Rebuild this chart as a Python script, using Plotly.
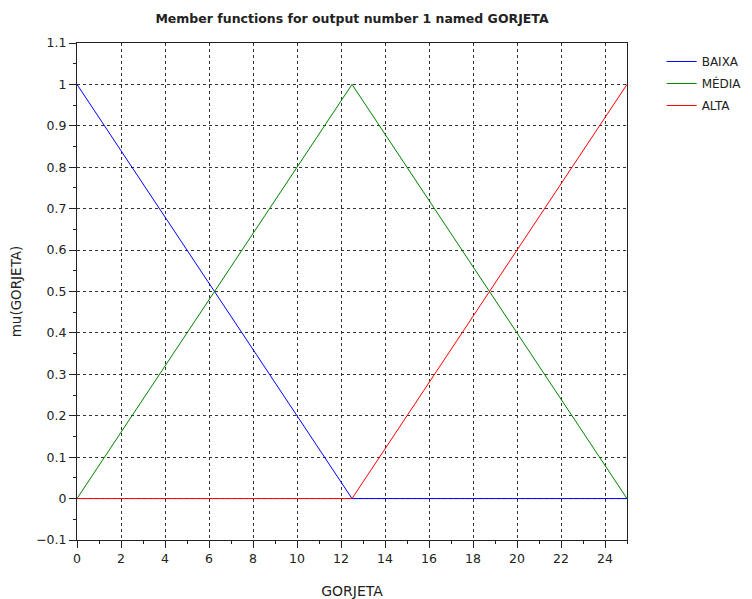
import plotly.graph_objects as go

x_vals = [0, 12.5, 25]
baixa = [1, 0, 0]
media = [0, 1, 0]
alta = [0, 0, 1]
names = ["BAIXA", "MÉDIA", "ALTA"]
colors = ["#0000ff", "#008000", "#ff0000"]

fig = go.Figure()
for name, ys, c in zip(names, [baixa, media, alta], colors):
    fig.add_trace(go.Scatter(x=x_vals, y=ys, mode="lines", name=name, legendgroup=name,
                             line=dict(color=c, width=1)))

font = "DejaVu Sans, Liberation Sans, sans-serif"
axis_common = dict(showline=True, linecolor="#222222", linewidth=1, mirror=True,
                   showgrid=True, gridcolor="#333333", griddash="dot", gridwidth=1,
                   zeroline=False, ticks="outside", ticklen=7, tickcolor="#222222",
                   automargin=False,
                   tickfont=dict(family=font, size=12.5, color="#222222"))

# body has an 8px margin in the page; compensate
W, H = 744, 591
L, T = 69, 35
PW, PH = 550, 497

fig.update_xaxes(range=[0, 25], tick0=0, dtick=2,
                 minor=dict(dtick=1, ticks="outside", ticklen=3, tickcolor="#222222", showgrid=False),
                 title=dict(text="GORJETA", font=dict(family=font, size=14, color="#222222"), standoff=24),
                 **axis_common)
fig.update_yaxes(range=[-0.1, 1.1], tick0=-0.1, dtick=0.1,
                 minor=dict(dtick=0.05, ticks="outside", ticklen=3, tickcolor="#222222", showgrid=False),
                 title=dict(text="mu(GORJETA)", font=dict(family=font, size=13.5, color="#222222"), standoff=11),
                 **axis_common)

fig.update_layout(
    width=W, height=H,
    margin=dict(l=L, r=W - L - PW, t=T, b=H - T - PH, autoexpand=False),
    paper_bgcolor="white", plot_bgcolor="white",
    title=dict(text="<b>Member functions for output number 1 named GORJETA</b>",
               x=(352 - 8) / W, xanchor="center", y=1 - 11 / H, yanchor="middle",
               font=dict(family=font, size=12.5, color="#222222")),
    legend=dict(x=1.063, y=0.992, xanchor="left", yanchor="top",
                font=dict(family=font, size=12, color="#222222"),
                bgcolor="rgba(0,0,0,0)", tracegroupgap=3),
    showlegend=True,
)

fig.write_html("out.html")
